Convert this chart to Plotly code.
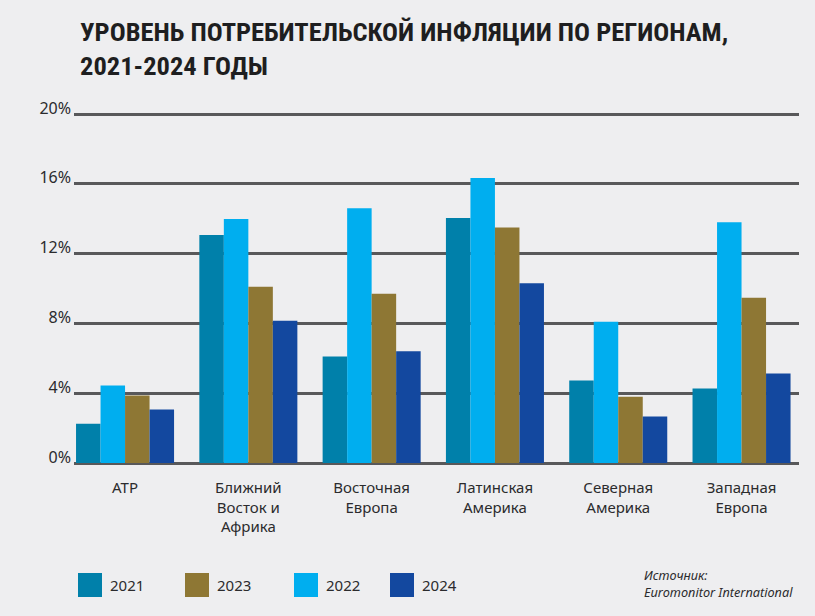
import plotly.graph_objects as go

regions = ["АТР", "Ближний<br>Восток и<br>Африка", "Восточная<br>Европа",
           "Латинская<br>Америка", "Северная<br>Америка", "Западная<br>Европа"]
years = ["2021", "2022", "2023", "2024"]
v2021 = [2.25, 13.07, 6.1, 14.04, 4.73, 4.27]
v2022 = [4.44, 13.98, 14.6, 16.33, 8.1, 13.8]
v2023 = [3.87, 10.1, 9.7, 13.5, 3.8, 9.47]
v2024 = [3.07, 8.15, 6.4, 10.3, 2.67, 5.13]
series = [v2021, v2022, v2023, v2024]
colors = ["#0080aa", "#00aeef", "#8e7734", "#13489f"]
legend_order = ["2021", "2023", "2022", "2024"]
y_ticks = [0, 4, 8, 12, 16, 20]
y_labels = ["0%", "4%", "8%", "12%", "16%", "20%"]
title = "УРОВЕНЬ ПОТРЕБИТЕЛЬСКОЙ ИНФЛЯЦИИ ПО РЕГИОНАМ,<br>2021-2024 ГОДЫ"
source = "<i>Источник:<br>Euromonitor International</i>"

BG = "#eeeef0"
TXT = "#2b2b2d"
GRID = "#58585a"

fig = go.Figure()
for yr, vals, c in zip(years, series, colors):
    fig.add_trace(go.Bar(name=yr, x=list(range(len(regions))), y=vals,
                         marker=dict(color=c, line=dict(width=0)),
                         showlegend=False))

W, H = 815, 616
ml, mr, mt, mb = 74, 16, 110, 153
pw, ph = W - ml - mr, H - mt - mb
y_top = 20 + (114 - mt) / ((H - mb - 114) / 20)

def px2x(px):
    return (px - ml) / pw

def py2y(py):
    return (H - mb - py) / ph

shapes = []
annotations = []
leg_x = [78, 185, 294, 390]
for name, lx in zip(legend_order, leg_x):
    c = colors[years.index(name)]
    shapes.append(dict(type="rect", xref="paper", yref="paper",
                       x0=px2x(lx), x1=px2x(lx + 24), y0=py2y(597), y1=py2y(573),
                       fillcolor=c, line=dict(width=0)))
    annotations.append(dict(xref="paper", yref="paper", x=px2x(lx + 30), y=py2y(585),
                            text=name, showarrow=False, xanchor="left", yanchor="middle",
                            font=dict(family="Noto Sans", size=15, color=TXT)))

annotations.append(dict(xref="paper", yref="paper", x=px2x(642), y=py2y(583),
                        text=source, showarrow=False, xanchor="left", yanchor="middle",
                        align="left",
                        font=dict(family="Noto Sans", size=12.7, color=TXT)))

fig.update_layout(
    width=W, height=H,
    margin=dict(l=ml, r=mr, t=mt, b=mb, pad=0),
    paper_bgcolor=BG, plot_bgcolor=BG,
    barmode="group", bargap=0.205, bargroupgap=0,
    title=dict(text=title, x=80 / W, xanchor="left", y=1 - 41 / H, yanchor="top",
               font=dict(family="Liberation Sans Narrow, Roboto Condensed, Noto Sans",
                         size=26.5, color="#1e1e20", weight="bold")),
    xaxis=dict(range=[-0.414, 5.466], tickmode="array",
               tickvals=list(range(len(regions))), ticktext=regions,
               showgrid=False, zeroline=False, showline=False, ticks="",
               ticklabelstandoff=14,
               tickfont=dict(family="Noto Sans", size=15, color=TXT),
               fixedrange=True),
    yaxis=dict(range=[0, y_top], tickmode="array", tickvals=y_ticks, ticktext=y_labels,
               showgrid=True, gridcolor=GRID, gridwidth=2.5,
               zeroline=True, zerolinecolor=GRID, zerolinewidth=2.5,
               showline=False, ticks="", ticklabelstandoff=2, ticklabelshift=-6,
               tickfont=dict(family="Noto Sans", size=16, color=TXT),
               fixedrange=True),
    shapes=shapes, annotations=annotations,
    font=dict(family="Noto Sans", color=TXT),
)

fig.write_html("out.html")
